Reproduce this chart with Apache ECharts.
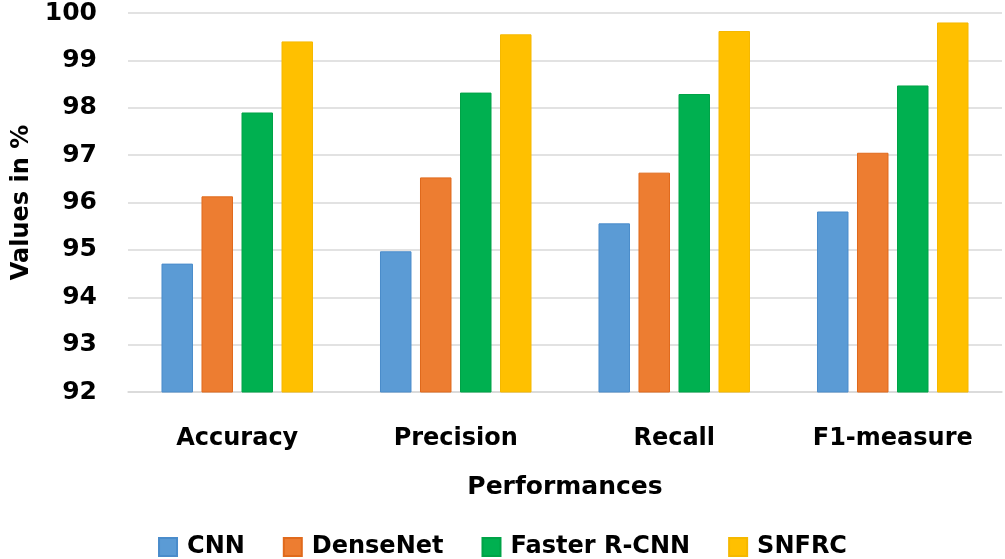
<!DOCTYPE html>
<html>
<head>
<meta charset="utf-8">
<script src="https://cdn.jsdelivr.net/npm/echarts@6/dist/echarts.min.js"></script>
<style>html,body{margin:0;padding:0;background:#fff}#c{width:1005px;height:559px}</style>
</head>
<body>
<div id="c"></div>
<script>
const categories = ['Accuracy', 'Precision', 'Recall', 'F1-measure'];
const seriesNames = ['CNN', 'DenseNet', 'Faster R-CNN', 'SNFRC'];
const cnn = [94.71, 94.97, 95.56, 95.81];
const denseNet = [96.13, 96.53, 96.63, 97.05];
const fasterRCNN = [97.90, 98.32, 98.29, 98.47];
const snfrc = [99.40, 99.55, 99.62, 99.80];
const yTicks = [92, 93, 94, 95, 96, 97, 98, 99, 100];

const colors = ['#5B9BD5', '#ED7D31', '#00B050', '#FFC000'];
const borders = ['#4A8CCB', '#E06A1C', '#00A347', '#F5B800'];
const values = [cnn, denseNet, fasterRCNN, snfrc];
const font = '"DejaVu Sans", sans-serif';

const chart = echarts.init(document.getElementById('c'));
chart.setOption({
  animation: false,
  textStyle: { fontFamily: font },
  grid: { left: 128, right: 3, top: 13, bottom: 167, containLabel: false },
  legend: {
    data: seriesNames,
    left: 'center',
    top: 530,
    itemWidth: 18,
    itemHeight: 18,
    itemGap: 38,
    icon: 'rect',
    textStyle: { fontSize: 24, fontWeight: 'bold', color: '#000', fontFamily: font, padding: [0, 0, 0, 5] }
  },
  xAxis: {
    type: 'category',
    data: categories,
    name: 'Performances',
    nameLocation: 'middle',
    nameGap: 83,
    nameTextStyle: { fontSize: 25, fontWeight: 'bold', color: '#000', fontFamily: font },
    axisLine: { lineStyle: { color: '#D9D9D9', width: 1.5 } },
    axisTick: { show: false },
    axisLabel: { margin: 35, fontSize: 24, fontWeight: 'bold', color: '#000', fontFamily: font }
  },
  yAxis: {
    type: 'value',
    min: yTicks[0],
    max: yTicks[yTicks.length - 1],
    interval: 1,
    name: 'Values in %',
    nameLocation: 'middle',
    nameGap: 94,
    nameTextStyle: { fontSize: 24, fontWeight: 'bold', color: '#000', fontFamily: font },
    axisLine: { show: false },
    axisTick: { show: false },
    splitLine: { lineStyle: { color: '#D9D9D9', width: 1.5 } },
    axisLabel: { margin: 31, fontSize: 25, fontWeight: 'bold', color: '#000', fontFamily: font }
  },
  series: seriesNames.map((n, i) => ({
    name: n,
    type: 'bar',
    data: values[i],
    barWidth: 31.5,
    barGap: '27%',
    itemStyle: { color: colors[i], borderColor: borders[i], borderWidth: 1 }
  }))
});
</script>
</body>
</html>
